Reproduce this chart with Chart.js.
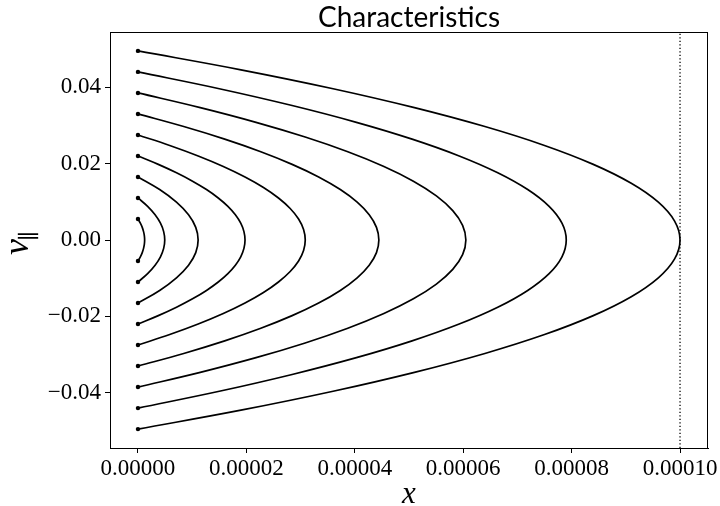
<!DOCTYPE html>
<html>
<head>
<meta charset="utf-8">
<script src="https://cdn.jsdelivr.net/npm/chart.js@4/dist/chart.umd.min.js"></script>
<style>
html,body{margin:0;padding:0;background:#fff;}
#wrap{width:720px;height:506px;}
</style>
</head>
<body>
<div id="wrap"><canvas id="c" width="720" height="506"></canvas></div>
<script>
// Characteristic curves: v values and x values
const v1 = [0.0055,0.0044,0.0033,0.0022,0.0011,0,-0.0011,-0.0022,-0.0033,-0.0044,-0.0055];
const x1 = [0,0.44e-6,0.79e-6,1.03e-6,1.18e-6,1.23e-6,1.18e-6,1.03e-6,0.79e-6,0.44e-6,0];
const v2 = [0.011,0.0088,0.0066,0.0044,0.0022,0,-0.0022,-0.0044,-0.0066,-0.0088,-0.011];
const x2 = [0,1.78e-6,3.16e-6,4.15e-6,4.74e-6,4.94e-6,4.74e-6,4.15e-6,3.16e-6,1.78e-6,0];
const v3 = [0.0165,0.0132,0.0099,0.0066,0.0033,0,-0.0033,-0.0066,-0.0099,-0.0132,-0.0165];
const x3 = [0,4.0e-6,7.1e-6,9.33e-6,10.66e-6,11.1e-6,10.66e-6,9.33e-6,7.1e-6,4.0e-6,0];
const v4 = [0.022,0.0198,0.0176,0.0154,0.0132,0.011,0.0088,0.0066,0.0044,0.0022,0,
            -0.0022,-0.0044,-0.0066,-0.0088,-0.011,-0.0132,-0.0154,-0.0176,-0.0198,-0.022];
const x4 = [0,3.75e-6,7.11e-6,10.07e-6,12.64e-6,14.81e-6,16.59e-6,17.97e-6,18.96e-6,19.55e-6,19.75e-6,
            19.55e-6,18.96e-6,17.97e-6,16.59e-6,14.81e-6,12.64e-6,10.07e-6,7.11e-6,3.75e-6,0];
const v5 = [0.0275,0.02475,0.022,0.01925,0.0165,0.01375,0.011,0.00825,0.0055,0.00275,0,
            -0.00275,-0.0055,-0.00825,-0.011,-0.01375,-0.0165,-0.01925,-0.022,-0.02475,-0.0275];
const x5 = [0,5.86e-6,11.11e-6,15.74e-6,19.75e-6,23.15e-6,25.92e-6,28.08e-6,29.63e-6,30.55e-6,30.86e-6,
            30.55e-6,29.63e-6,28.08e-6,25.92e-6,23.15e-6,19.75e-6,15.74e-6,11.11e-6,5.86e-6,0];
const v6 = [0.033,0.0297,0.0264,0.0231,0.0198,0.0165,0.0132,0.0099,0.0066,0.0033,0,
            -0.0033,-0.0066,-0.0099,-0.0132,-0.0165,-0.0198,-0.0231,-0.0264,-0.0297,-0.033];
const x6 = [0,8.44e-6,16.0e-6,22.66e-6,28.44e-6,33.33e-6,37.33e-6,40.44e-6,42.66e-6,44.0e-6,44.44e-6,
            44.0e-6,42.66e-6,40.44e-6,37.33e-6,33.33e-6,28.44e-6,22.66e-6,16.0e-6,8.44e-6,0];
const v7 = [0.0385,0.03465,0.0308,0.02695,0.0231,0.01925,0.0154,0.01155,0.0077,0.00385,0,
            -0.00385,-0.0077,-0.01155,-0.0154,-0.01925,-0.0231,-0.02695,-0.0308,-0.03465,-0.0385];
const x7 = [0,11.49e-6,21.78e-6,30.85e-6,38.71e-6,45.37e-6,50.81e-6,55.05e-6,58.07e-6,59.89e-6,60.49e-6,
            59.89e-6,58.07e-6,55.05e-6,50.81e-6,45.37e-6,38.71e-6,30.85e-6,21.78e-6,11.49e-6,0];
const v8 = [0.044,0.0396,0.0352,0.0308,0.0264,0.022,0.0176,0.0132,0.0088,0.0044,0,
            -0.0044,-0.0088,-0.0132,-0.0176,-0.022,-0.0264,-0.0308,-0.0352,-0.0396,-0.044];
const x8 = [0,15.01e-6,28.44e-6,40.30e-6,50.57e-6,59.26e-6,66.37e-6,71.90e-6,75.85e-6,78.22e-6,79.01e-6,
            78.22e-6,75.85e-6,71.90e-6,66.37e-6,59.26e-6,50.57e-6,40.30e-6,28.44e-6,15.01e-6,0];
const v9 = [0.0495,0.04455,0.0396,0.03465,0.0297,0.02475,0.0198,0.01485,0.0099,0.00495,0,
            -0.00495,-0.0099,-0.01485,-0.0198,-0.02475,-0.0297,-0.03465,-0.0396,-0.04455,-0.0495];
const x9 = [0,19e-6,36e-6,51e-6,64e-6,75e-6,84e-6,91e-6,96e-6,99e-6,100e-6,
            99e-6,96e-6,91e-6,84e-6,75e-6,64e-6,51e-6,36e-6,19e-6,0];

// Dotted vertical reference line
const refLineX = [0.0001, 0.0001];
const refLineV = [-0.05445, 0.05445];

// Tick labels
const xTicks = [0, 0.00002, 0.00004, 0.00006, 0.00008, 0.0001];
const xTickLabels = ['0.00000','0.00002','0.00004','0.00006','0.00008','0.00010'];
const yTicks = [-0.04, -0.02, 0, 0.02, 0.04];
const yTickLabels = ['\u22120.04','\u22120.02','0.00','0.02','0.04'];

const titleText = 'Characteristics';
const xLabel = 'x';
const yLabelMain = 'v';
const yLabelSub = '\u2225';

const curves = [[x1,v1],[x2,v2],[x3,v3],[x4,v4],[x5,v5],[x6,v6],[x7,v7],[x8,v8],[x9,v9]];

const datasets = curves.map(([xs, vs]) => ({
  data: xs.map((x, i) => ({x: x, y: vs[i]})),
  showLine: true,
  borderColor: '#000',
  backgroundColor: '#000',
  borderWidth: 1.7,
  tension: 0.4,
  pointRadius: (ctx) => (ctx.dataIndex === 0 || ctx.dataIndex === xs.length - 1) ? 2.2 : 0,
  pointBorderWidth: 0,
  pointHoverRadius: 0
}));

datasets.push({
  data: refLineX.map((x, i) => ({x: x, y: refLineV[i]})),
  showLine: true,
  borderColor: '#000',
  borderWidth: 1.3,
  borderDash: [1.3, 2.2],
  pointRadius: 0,
  tension: 0
});

const serif = '"Liberation Serif", "DejaVu Serif", serif';

const extras = {
  id: 'extras',
  afterDraw(chart) {
    const ctx = chart.ctx;
    const a = chart.chartArea;
    ctx.save();
    ctx.strokeStyle = '#000';
    ctx.lineWidth = 1;
    ctx.strokeRect(Math.round(a.left) + 0.5, Math.round(a.top) + 0.5,
                   Math.round(a.right - a.left) - 1, Math.round(a.bottom - a.top));
    ctx.fillStyle = '#000';
    // title
    ctx.font = '28px Lato, "Open Sans", sans-serif';
    ctx.textAlign = 'center';
    ctx.textBaseline = 'alphabetic';
    ctx.fillText(titleText, (a.left + a.right) / 2, 27);
    // x label
    ctx.font = 'italic 31px ' + serif;
    ctx.fillText(xLabel, (a.left + a.right) / 2, 503);
    // y label: v with parallel subscript, rotated
    ctx.translate(28, 255);
    ctx.rotate(-Math.PI / 2);
    ctx.textAlign = 'left';
    ctx.font = 'italic 36px ' + serif;
    ctx.fillText(yLabelMain, 0, 0);
    const w = ctx.measureText(yLabelMain).width;
    ctx.font = '22px ' + serif;
    ctx.fillText(yLabelSub, w - 2, 8);
    ctx.restore();
  }
};

new Chart(document.getElementById('c'), {
  type: 'scatter',
  data: { datasets: datasets },
  plugins: [extras],
  options: {
    responsive: false,
    animation: false,
    events: [],
    layout: { padding: { left: 0, right: 12, top: 32, bottom: 0 } },
    plugins: {
      legend: { display: false },
      tooltip: { enabled: false },
      title: { display: false }
    },
    scales: {
      x: {
        type: 'linear',
        min: -0.00000516,
        max: 0.00010516,
        afterFit(scale) { scale.height = 58; },
        afterBuildTicks(scale) { scale.ticks = xTicks.map(v => ({ value: v })); },
        ticks: {
          color: '#000',
          font: { family: serif, size: 23 },
          padding: 2,
          maxRotation: 0,
          autoSkip: false,
          callback: (val) => { const i = xTicks.findIndex(t => Math.abs(t - val) < 1e-9); return i >= 0 ? xTickLabels[i] : ''; }
        },
        grid: { drawOnChartArea: false, drawTicks: true, tickLength: 5, color: '#000', lineWidth: 1 },
        border: { display: true, color: '#000', width: 1 }
      },
      y: {
        type: 'linear',
        min: -0.05445,
        max: 0.05445,
        afterFit(scale) { scale.width = 110; },
        afterBuildTicks(scale) { scale.ticks = yTicks.map(v => ({ value: v })); },
        ticks: {
          color: '#000',
          font: { family: serif, size: 23 },
          padding: 4,
          autoSkip: false,
          callback: (val) => { const i = yTicks.findIndex(t => Math.abs(t - val) < 1e-9); return i >= 0 ? yTickLabels[i] : ''; }
        },
        grid: { drawOnChartArea: false, drawTicks: true, tickLength: 5, color: '#000', lineWidth: 1 },
        border: { display: true, color: '#000', width: 1 }
      }
    }
  }
});
</script>
</body>
</html>
